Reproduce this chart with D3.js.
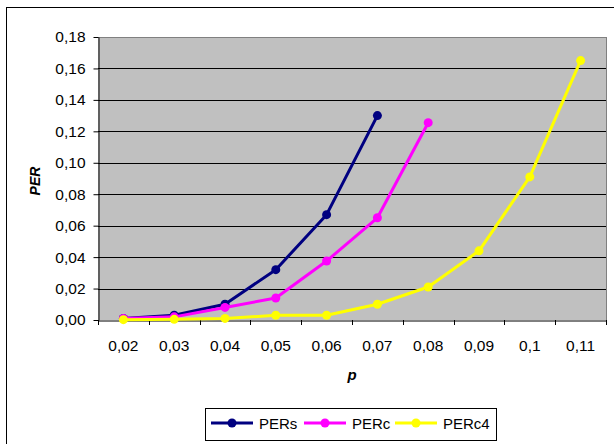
<!DOCTYPE html>
<html><head><meta charset="utf-8">
<script src="https://cdn.jsdelivr.net/npm/d3@7"></script>
<style>
body{margin:0;background:#fff;}
svg{display:block;font-family:"Liberation Sans",Arial,sans-serif;}
</style></head>
<body>
<script>
const categories = ["0,02","0,03","0,04","0,05","0,06","0,07","0,08","0,09","0,1","0,11"];
const PERs  = [0.001, 0.003, 0.010, 0.032, 0.067, 0.130];
const PERc  = [0.001, 0.002, 0.008, 0.014, 0.0375, 0.065, 0.1255];
const PERc4 = [0.0002, 0.0004, 0.001, 0.003, 0.003, 0.010, 0.021, 0.044, 0.091, 0.165];
const yTicks = [0,0.02,0.04,0.06,0.08,0.10,0.12,0.14,0.16,0.18];
const seriesNames = ["PERs","PERc","PERc4"];
const seriesColors = ["#000080","#FF00FF","#FFFF00"];
const seriesData = [PERs, PERc, PERc4];

const W = 614, H = 444;
const svg = d3.select("body").append("svg").attr("width", W).attr("height", H);

// outer chart frame (extends past right/bottom)
svg.append("rect").attr("x",6.5).attr("y",7.5).attr("width",W+10).attr("height",H+10)
  .attr("fill","#fff").attr("stroke","#000").attr("stroke-width",1);

const L = 98, R = 606, T = 37, B = 320;
const x = d3.scaleBand().domain(categories).range([L, R]).padding(0);
const y = d3.scaleLinear().domain([0, 0.18]).range([B, T]);
const cx = c => x(c) + x.bandwidth()/2;

// plot area
svg.append("rect").attr("x",L).attr("y",T).attr("width",R-L).attr("height",B-T)
  .attr("fill","#C0C0C0");
// gridlines
svg.append("g").selectAll("line").data(yTicks.slice(1)).join("line")
  .attr("x1",L).attr("x2",R).attr("y1",d=>Math.round(y(d))+0.5).attr("y2",d=>Math.round(y(d))+0.5)
  .attr("stroke",d=>d===0.18?"#808080":"#000").attr("stroke-width",1);
// right border
svg.append("line").attr("x1",R+0.5).attr("x2",R+0.5).attr("y1",T).attr("y2",B)
  .attr("stroke","#808080");

// y axis
const fmt = d => d3.format(".2f")(d).replace(".", ",");
const yAxis = d3.axisLeft(y).tickValues(yTicks).tickFormat(fmt).tickSize(5).tickPadding(8).tickSizeOuter(0);
const gy = svg.append("g").attr("transform",`translate(${L+0.5},0)`).call(yAxis);
gy.selectAll("text").attr("font-size",15.5).attr("fill","#000").attr("font-family","Liberation Sans, Arial, sans-serif");
gy.selectAll("line").attr("stroke","#000");
gy.select(".domain").attr("stroke","#000");

// x axis: labels centered in categories, ticks at boundaries
const xAxis = d3.axisBottom(x).tickSize(0).tickPadding(0).tickSizeOuter(0);
const gx = svg.append("g").attr("transform",`translate(0,${B+0.5})`).call(xAxis);
gx.select(".domain").attr("stroke","#000");
gx.selectAll("text").attr("font-size",15.5).attr("fill","#000").attr("dy",null).attr("y",30.5)
  .attr("font-family","Liberation Sans, Arial, sans-serif");
const bounds = categories.map(c => x(c)).concat([R]);
svg.append("g").selectAll("line").data(bounds).join("line")
  .attr("x1",d=>Math.round(d)+0.5).attr("x2",d=>Math.round(d)+0.5)
  .attr("y1",B).attr("y2",B+5).attr("stroke","#000");

// series
const line = d3.line().x((d,i)=>cx(categories[i])).y(d=>y(d));
seriesData.forEach((data, k) => {
  const g = svg.append("g");
  g.append("path").datum(data).attr("d", line).attr("fill","none")
    .attr("stroke", seriesColors[k]).attr("stroke-width",3).attr("stroke-linejoin","round");
  g.selectAll("circle").data(data).join("circle")
    .attr("cx",(d,i)=>cx(categories[i])).attr("cy",d=>y(d)).attr("r",4.5)
    .attr("fill",seriesColors[k]);
});

// axis titles
svg.append("text").attr("transform","translate(40,181) rotate(-90)")
  .attr("text-anchor","middle").attr("font-size",14).attr("font-weight","bold")
  .attr("font-style","italic").text("PER");
svg.append("text").attr("x",352).attr("y",380)
  .attr("text-anchor","middle").attr("font-size",15).attr("font-weight","bold")
  .attr("font-style","italic").text("p");

// legend
const lg = svg.append("g");
lg.append("rect").attr("x",205.5).attr("y",408.5).attr("width",291).attr("height",32)
  .attr("fill","#fff").attr("stroke","#000");
const legX = [211, 304, 395];
seriesNames.forEach((n,k) => {
  const lx = legX[k], ly = 423;
  lg.append("line").attr("x1",lx).attr("x2",lx+42).attr("y1",ly).attr("y2",ly)
    .attr("stroke",seriesColors[k]).attr("stroke-width",3);
  lg.append("circle").attr("cx",lx+21).attr("cy",ly).attr("r",4.5).attr("fill",seriesColors[k]);
  lg.append("text").attr("x",lx+48).attr("y",ly+5.5).attr("font-size",15).attr("fill","#000").text(n);
});
</script>
</body></html>
